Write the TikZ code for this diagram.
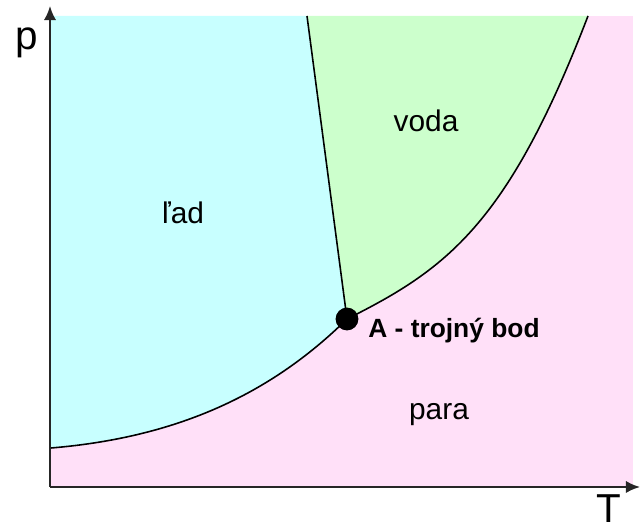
\documentclass[tikz,border=0pt]{standalone}
\usepackage{fontspec}
\setmainfont{Liberation Sans}
\usetikzlibrary{arrows.meta}
\definecolor{iceblue}{RGB}{200,255,255}
\definecolor{watergreen}{RGB}{204,255,204}
\definecolor{steampink}{RGB}{255,224,248}

\begin{document}
\begin{tikzpicture}[
		x=0.02cm, y=-0.02cm,
		axis/.style={-{Latex[length=8pt, width=7pt]}, line width=1.2pt, black!85},
		phase/.style={line width=0.9pt},
		region/.style={font=\fontsize{17}{20}\selectfont, anchor=base},
		axlabel/.style={font=\fontsize{23}{26}\selectfont, anchor=base, inner sep=0pt}
	]
	\useasboundingbox (0,0) rectangle (640,526);
	\coordinate (origin) at (50,487);
	\coordinate (yTip) at (50,6);
	\coordinate (xTip) at (640,487);
	\coordinate (triple) at (347,319);
	\coordinate (meltTop) at (307,16);
	\coordinate (vapTop) at (588,16);
	\coordinate (sublLeft) at (51,448);

	% phase regions
	\fill[steampink] (51,16) rectangle (633,487);
	\fill[iceblue] (51,16) -- (meltTop) -- (triple)
		.. controls (267,398) and (171,438) .. (sublLeft) -- cycle;
	\fill[watergreen] (meltTop) -- (vapTop)
		.. controls (508,224) and (447,269) .. (triple) -- cycle;

	% phase boundaries
	\draw[phase] (meltTop) -- (triple);
	\draw[phase] (sublLeft) .. controls (171,438) and (267,398) .. (triple);
	\draw[phase] (triple) .. controls (447,269) and (508,224) .. (vapTop);

	% axes
	\draw[axis] (origin) -- (yTip);
	\draw[axis] (origin) -- (xTip);
	\node[axlabel] (pLabel) at (27,50) {p};
	\node[axlabel] (TLabel) at (609,523) {T};

	\node[region] (ice) at (183,224) {ľad};
	\node[region] (water) at (426,132) {voda};
	\node[region] (steam) at (439,420) {para};

	\node[circle, fill, inner sep=0pt, minimum size=13pt] (dot) at (triple) {};
	\node[font=\bfseries\fontsize{15}{18}\selectfont, anchor=base west, inner sep=0pt] (tripleLabel) at (368,338) {A - trojný bod};
\end{tikzpicture}
\end{document}
